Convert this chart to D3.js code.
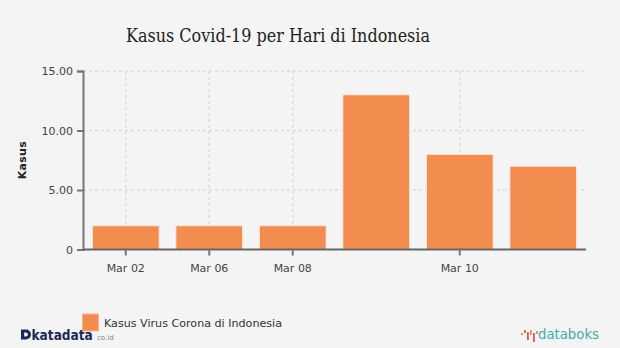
<!DOCTYPE html>
<html>
<head>
<meta charset="utf-8">
<script src="https://cdn.jsdelivr.net/npm/d3@7/dist/d3.min.js"></script>
<style>
  html, body { margin: 0; padding: 0; background: #f4f4f4; }
  #chart-area { width: 620px; height: 348px; }
  text { font-family: "DejaVu Sans", Verdana, sans-serif; }
</style>
</head>
<body>
<div id="chart-area"></div>
<script>
// data
const dayLabels = ["Mar 02", "Mar 06", "Mar 08", "", "Mar 10", ""];
const cases = [2, 2, 2, 13, 8, 7];
const yTicks = [0, 5, 10, 15];
const seriesName = "Kasus Virus Corona di Indonesia";

const W = 620, H = 348;
const margin = { left: 83, right: 35, top: 71, bottom: 98.5 };
const width = W - margin.left - margin.right,
	height = H - margin.top - margin.bottom;

const svg = d3.select("#chart-area")
	.append("svg")
	.attr("width", W)
	.attr("height", H);

svg.append("rect").attr("width", W).attr("height", H).attr("fill", "#f4f4f4");

svg.append("text")
	.attr("x", 278)
	.attr("y", 41.5)
	.attr("text-anchor", "middle")
	.style("font-family", "'DejaVu Serif', 'Liberation Serif', serif")
	.attr("font-size", "19px")
	.attr("fill", "#222")
	.attr("textLength", 304)
	.attr("lengthAdjust", "spacingAndGlyphs")
	.text("Kasus Covid-19 per Hari di Indonesia");

const g = svg.append("g")
	.attr("transform", `translate(${margin.left}, ${margin.top})`);

const x = d3.scaleBand()
	.domain(d3.range(cases.length))
	.range([1, width])
	.paddingInner(0.2)
	.paddingOuter(0.1);

const y = d3.scaleLinear()
	.domain([0, 15])
	.range([height, 0]);

const labelled = d3.range(cases.length).filter(i => dayLabels[i] !== "");

// grid
g.append("g").selectAll("line")
	.data(yTicks.filter(d => d > 0))
	.join("line")
	.attr("x1", 0).attr("x2", width)
	.attr("y1", d => y(d)).attr("y2", d => y(d))
	.attr("stroke", "#dcdcdc")
	.attr("stroke-width", 1.5)
	.attr("stroke-dasharray", "3,3");

g.append("g").selectAll("line")
	.data(labelled)
	.join("line")
	.attr("x1", d => x(d) + x.bandwidth() / 2).attr("x2", d => x(d) + x.bandwidth() / 2)
	.attr("y1", 0).attr("y2", height)
	.attr("stroke", "#dcdcdc")
	.attr("stroke-width", 1.5)
	.attr("stroke-dasharray", "3,3");

// bars
g.append("g").selectAll("rect")
	.data(cases)
	.join("rect")
	.attr("x", (d, i) => x(i))
	.attr("width", x.bandwidth())
	.attr("y", d => y(d))
	.attr("height", d => height - y(d))
	.attr("fill", "#f38c4f")
	.attr("stroke", "#fbe9df")
	.attr("stroke-width", 1);

// axes
const yAxis = g.append("g")
	.call(d3.axisLeft(y).tickValues(yTicks).tickSize(6)
		.tickFormat(d => d === 0 ? "0" : d3.format(".2f")(d)));
yAxis.select(".domain").attr("stroke", "#777").attr("stroke-width", 2);
yAxis.selectAll(".tick line").attr("stroke", "#777").attr("stroke-width", 2);
yAxis.selectAll(".tick text")
	.attr("x", -10)
	.attr("font-size", "11px")
	.attr("fill", "#444")
	.style("font-family", "'DejaVu Sans', sans-serif");

const xAxis = g.append("g")
	.attr("transform", `translate(0, ${height})`)
	.call(d3.axisBottom(x).tickValues(labelled).tickSize(6).tickSizeOuter(0)
		.tickFormat(i => dayLabels[i]));
xAxis.select(".domain").attr("stroke", "#666").attr("stroke-width", 2)
	.attr("d", `M0,0H${width + 1}`);
xAxis.selectAll(".tick line").attr("stroke", "#777").attr("stroke-width", 2);
xAxis.selectAll(".tick text")
	.attr("y", 15)
	.attr("font-size", "11px")
	.attr("fill", "#444")
	.style("font-family", "'DejaVu Sans', sans-serif");

svg.append("text")
	.attr("transform", `translate(26, ${margin.top + height / 2}) rotate(-90)`)
	.attr("text-anchor", "middle")
	.attr("font-size", "11px")
	.attr("font-weight", "bold")
	.attr("fill", "#222")
	.attr("textLength", 38)
	.text("Kasus");

// legend
svg.append("rect")
	.attr("x", 82.5).attr("y", 314)
	.attr("width", 16).attr("height", 17)
	.attr("fill", "#f38c4f")
	.attr("stroke", "#f7b48c");
svg.append("text")
	.attr("x", 104).attr("y", 327)
	.attr("font-size", "10.5px")
	.attr("fill", "#333")
	.attr("textLength", 178)
	.attr("lengthAdjust", "spacingAndGlyphs")
	.text(seriesName);

// katadata logo
svg.append("path")
	.attr("d", "M21,329.5H26A5,5 0 0 1 31,334.5A5,5 0 0 1 26,339.5H21Z M24.2,332.4V336.6H25.8A2.1,2.1 0 0 0 25.8,332.4Z")
	.attr("fill", "#1b2a59")
	.attr("fill-rule", "evenodd");
svg.append("text")
	.attr("transform", "translate(31.5, 340) scale(1, 1.15)")
	.attr("font-size", "12.2px")
	.attr("font-weight", "bold")
	.attr("fill", "#1b2a59")
	.text("katadata");
svg.append("text")
	.attr("x", 97).attr("y", 340)
	.attr("font-size", "7px")
	.attr("fill", "#7a8299")
	.text("co.id");

// databoks logo
const icon = svg.append("g").attr("transform", "translate(521, 330)");
[[0, 3, 2, "#f08c4a"], [3, 0, 3, "#e8554a"], [6, 2, 8, "#e8554a"], [9, 0, 5, "#f08c4a"], [12, 3, 9, "#e8554a"], [15, 1, 3, "#f08c4a"]]
	.forEach(([dx, dy, h, c]) => {
		icon.append("rect").attr("x", dx).attr("y", dy).attr("width", 1.8).attr("height", h).attr("fill", c);
	});
svg.append("text")
	.attr("x", 538).attr("y", 339)
	.attr("font-size", "14px")
	.attr("fill", "#3fada9")
	.attr("textLength", 61)
	.attr("lengthAdjust", "spacingAndGlyphs")
	.text("databoks");
</script>
</body>
</html>
